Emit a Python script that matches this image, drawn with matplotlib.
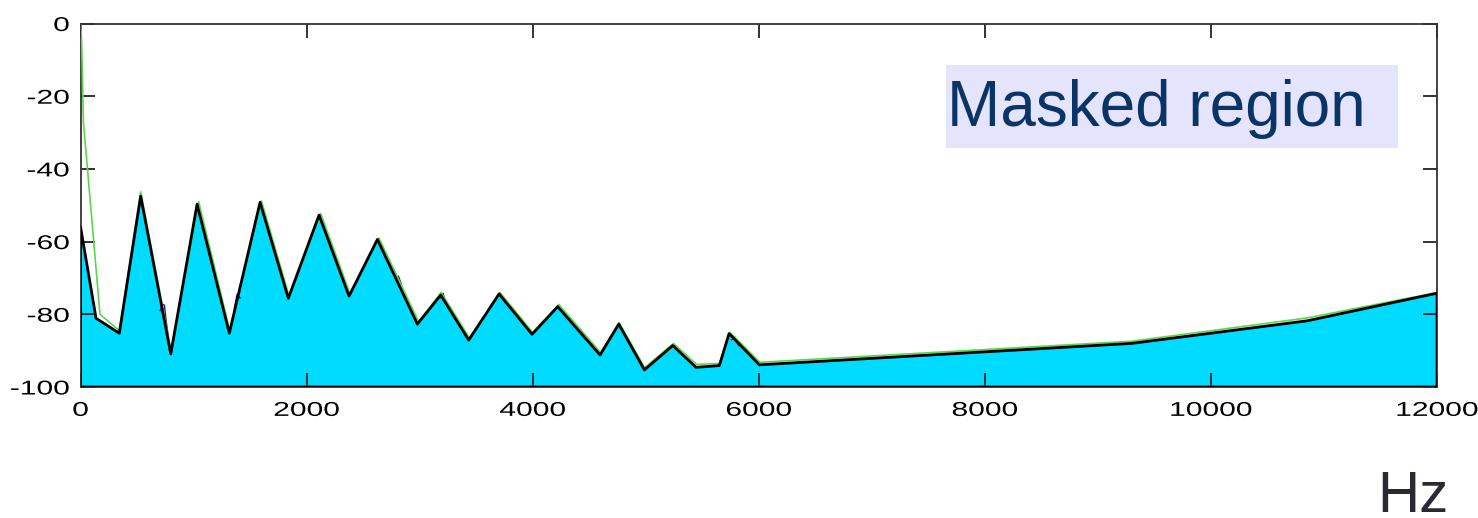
import numpy as np
import matplotlib.pyplot as plt
from matplotlib.patches import Rectangle
from matplotlib.patheffects import AbstractPathEffect
from matplotlib.transforms import Affine2D

plt.rcParams['font.family'] = ['Liberation Sans', 'DejaVu Sans']

# masking threshold (black outline / cyan fill)
hz_mask = [0, 137, 343, 532, 798, 1031, 1316, 1588, 1838, 2110, 2375, 2626,
           2980, 3186, 3434, 3702, 3994, 4221, 4596, 4761, 4988, 5239, 5445,
           5651, 5737, 6005, 9300, 10850, 12000]
db_mask = [-56, -81.1, -85.2, -47.5, -90.9, -49.7, -85.2, -49.2, -75.6, -52.7,
           -75.0, -59.4, -82.7, -74.7, -87.1, -74.4, -85.5, -77.9, -91.2, -82.7,
           -95.3, -88.6, -94.6, -94.1, -85.3, -93.9, -88.0, -81.8, -74.2]

# green curve
hz_green = [0, 10, 25, 172, 343, 532, 800, 1045, 1320, 1600, 1845, 2125, 2385,
            2640, 2990, 3190, 3440, 3710, 4000, 4230, 4600, 4765, 4990, 5245,
            5450, 5655, 5745, 6010, 9300, 10850, 12000]
db_green = [0, -5, -27, -80, -84.5, -46.3, -90, -49, -84.5, -48.8, -75, -52.3,
            -74.5, -59, -82, -74, -86.5, -74, -85, -77.3, -90.5, -82.3, -94.7,
            -88, -93.8, -93.5, -85, -93.2, -87.4, -81, -74]

# bits of the spectrum that show above the outline
hz_spec = [705, 725, 742, 758, 798, np.nan, 1360, 1385, 1410, np.nan,
           2790, 2812, 2840, np.nan, 3180, 3207, 3230, np.nan, 5760, 5790, 5820]
db_spec = [-79, -77.2, -77.5, -82, -90.9, np.nan, -78.5, -74.5, -75.5, np.nan,
           -70.5, -69.5, -72, np.nan, -75.5, -74.2, -77, np.nan, -87, -86.3, -88.5]

xticks = [0, 2000, 4000, 6000, 8000, 10000, 12000]
yticks = [-100, -80, -60, -40, -20, 0]


# the tick labels in the original are stretched sideways
class Stretch(AbstractPathEffect):
    def __init__(self, sx, anchor='center'):
        super().__init__()
        self.sx = sx
        self.anchor = anchor

    def draw_path(self, renderer, gc, tpath, affine, rgbFace=None):
        ext = tpath.get_extents(affine)
        x0 = ext.x1 if self.anchor == 'right' else (ext.x0 + ext.x1) / 2
        t = affine + Affine2D().translate(-x0, 0).scale(self.sx, 1).translate(x0, 0)
        renderer.draw_path(gc, tpath, t, rgbFace)


fig = plt.figure(figsize=(14.78, 5.18), dpi=100)
ax = fig.add_axes([0.0545, 0.2529, 0.9178, 0.7017])

ax.fill_between(hz_mask, db_mask, -100, facecolor='#00DCFF', edgecolor='none', zorder=1)
ax.plot(hz_spec, db_spec, color='#1a1a6e', lw=1, zorder=2)
ax.plot(hz_green, db_green, color='#5ad84a', lw=1.2, zorder=3)
ax.fill_between(hz_mask, db_mask, -100, facecolor='none', edgecolor='black', lw=2, zorder=4)

ax.set_xlim(0, 12000)
ax.set_ylim(-100, 0)
ax.set_xticks(xticks)
ax.set_xticklabels([str(t) for t in xticks])
ax.set_yticks(yticks)
ax.set_yticklabels([str(t) for t in yticks])
ax.tick_params(direction='in', length=10, width=1.3, labelsize=14.4,
               top=True, right=True, colors='#222222', labelcolor='black')
ax.tick_params(axis='x', pad=10)
ax.tick_params(axis='y', pad=8)
for s in ax.spines.values():
    s.set_color('#333333')
    s.set_linewidth(1.3)

for lab in ax.get_xticklabels():
    lab.set_path_effects([Stretch(1.5, 'center')])
for lab in ax.get_yticklabels():
    lab.set_path_effects([Stretch(1.5, 'right')])

# label box
fig.patches.append(Rectangle((0.640, 0.7143), 0.3058, 0.1602, transform=fig.transFigure,
                             facecolor='#E4E4FC', edgecolor='none', zorder=5))
fig.text(0.641, 0.7568, 'Masked region', fontsize=46, color='#0A3366', zorder=6)

fig.text(0.932, 0.012, 'Hz', fontsize=42, color='#2a2a35')

plt.savefig('out.png', dpi=100)
